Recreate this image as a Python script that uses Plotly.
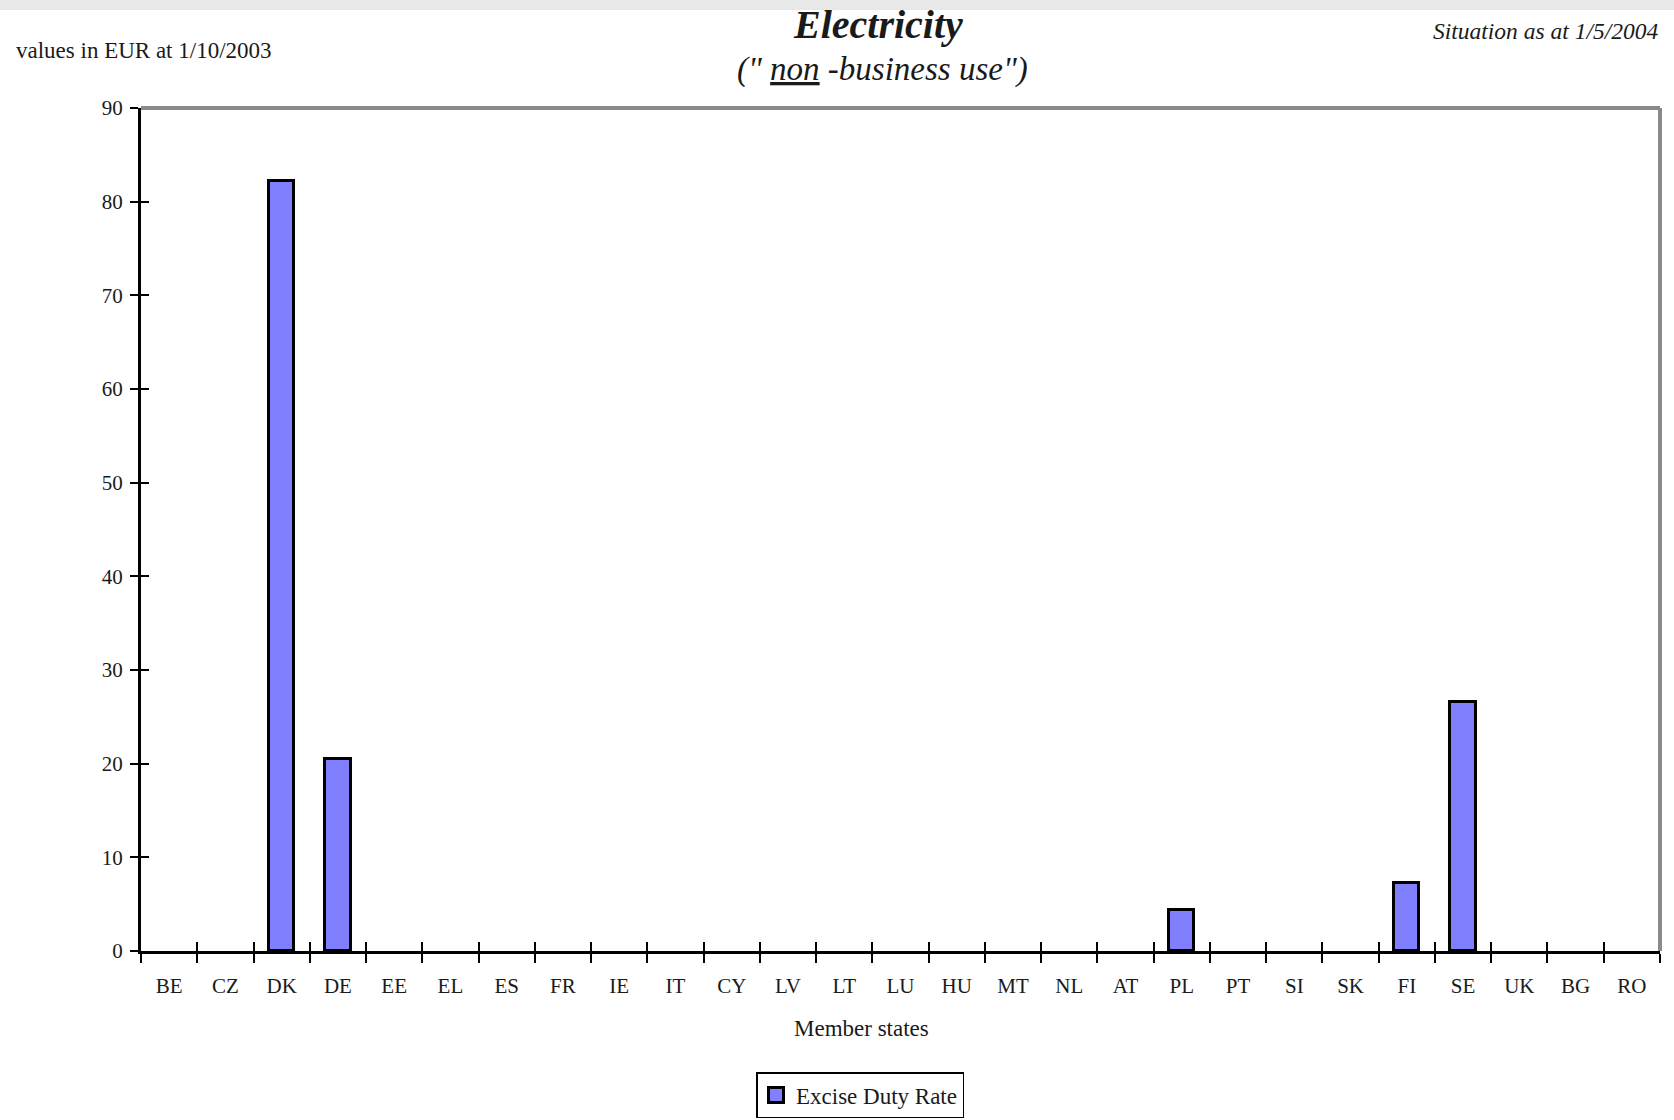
import plotly.graph_objects as go

countries = ["BE", "CZ", "DK", "DE", "EE", "EL", "ES", "FR", "IE", "IT", "CY", "LV", "LT",
             "LU", "HU", "MT", "NL", "AT", "PL", "PT", "SI", "SK", "FI", "SE", "UK", "BG", "RO"]
rates = [None, None, 82.2, 20.5, None, None, None, None, None, None, None, None, None,
         None, None, None, None, None, 4.4, None, None, None, 7.3, 26.6, None, None, None]
y_ticks = [0, 10, 20, 30, 40, 50, 60, 70, 80, 90]
series_name = "Excise Duty Rate"

W, H = 1674, 1120
L, R, T, B = 141, 14, 108, 169
PW, PH = W - L - R, H - T - B

def px(x):
    return (x - L) / PW

def py(y):
    return (H - B - y) / PH

FONT = "Liberation Serif"
TXT = "#1a1a1a"
FILL = "#8080FF"

fig = go.Figure()
fig.add_trace(go.Bar(
    x=countries, y=rates, width=0.45, name=series_name, legendgroup="g",
    marker=dict(color=FILL, line=dict(color="black", width=3)),
    showlegend=False,
))
# legend entry with a larger square swatch
fig.add_trace(go.Scatter(
    x=[None], y=[None], mode="markers", name=series_name, legendgroup="g",
    marker=dict(symbol="square", size=15, color=FILL, line=dict(color="black", width=3)),
    showlegend=True, hoverinfo="skip",
))
# helper trace so the overlay axes (inner tick halves) are drawn
fig.add_trace(go.Scatter(x=[], y=[], xaxis="x2", yaxis="y2", showlegend=False, hoverinfo="skip"))

n = len(countries)
fig.update_layout(
    width=W, height=H,
    margin=dict(l=L, r=R, t=T, b=B, autoexpand=False),
    paper_bgcolor="white", plot_bgcolor="white",
    font=dict(family=FONT, size=22, color=TXT),
    showlegend=True,
    bargap=0,
    xaxis=dict(
        type="category", categoryorder="array", categoryarray=countries,
        range=[-0.5, n - 0.5], tickson="boundaries",
        ticks="outside", ticklen=9, tickwidth=2, tickcolor="black",
        showline=True, linecolor="black", linewidth=3,
        showgrid=False, zeroline=False, automargin=False,
        tickfont=dict(family=FONT, size=21, color=TXT),
        ticklabelstandoff=14,
    ),
    yaxis=dict(
        range=[0, 90], tickvals=y_ticks,
        ticks="outside", ticklen=8, tickwidth=2, tickcolor="black",
        showline=True, linecolor="black", linewidth=3,
        showgrid=False, zeroline=False, automargin=False,
        tickfont=dict(family=FONT, size=21, color=TXT),
        ticklabelstandoff=3,
    ),
    xaxis2=dict(
        overlaying="x", anchor="y2", range=[-0.5, n - 0.5],
        tickvals=[i - 0.5 for i in range(n + 1)],
        ticks="inside", ticklen=9, tickwidth=2, tickcolor="black",
        showticklabels=False, showline=False, showgrid=False, zeroline=False,
    ),
    yaxis2=dict(
        overlaying="y", anchor="x2", side="left", range=[0, 90], tickvals=y_ticks,
        ticks="inside", ticklen=8, tickwidth=2, tickcolor="black",
        showticklabels=False, showline=False, showgrid=False, zeroline=False,
    ),
    legend=dict(
        orientation="h", x=px(860), xanchor="center", y=py(1118), yanchor="bottom",
        bordercolor="black", borderwidth=1.5, bgcolor="white",
        itemwidth=30, valign="middle",
        font=dict(family=FONT, size=23, color=TXT),
    ),
    shapes=[
        dict(type="rect", xref="paper", yref="paper", x0=-0.2, x1=1.2,
             y0=py(10), y1=1.3, fillcolor="#e8e8e8", line=dict(width=0), layer="below"),
        dict(type="line", xref="paper", yref="paper", x0=0, x1=1, y0=1, y1=1,
             line=dict(color="#8a8a8a", width=4), layer="below"),
        dict(type="line", xref="paper", yref="paper", x0=1, x1=1, y0=0, y1=1,
             line=dict(color="#8a8a8a", width=4), layer="below"),
    ],
    annotations=[
        dict(text="<b><i>Electricity</i></b>", xref="paper", yref="paper",
             x=px(878), y=py(24), xanchor="center", yanchor="middle", showarrow=False,
             font=dict(family=FONT, size=40, color=TXT)),
        dict(text="<i>(\" <u>non</u> -business use\")</i>", xref="paper", yref="paper",
             x=px(882), y=py(70), xanchor="center", yanchor="middle", showarrow=False,
             font=dict(family=FONT, size=33, color=TXT)),
        dict(text="values in EUR at 1/10/2003", xref="paper", yref="paper",
             x=px(14), y=py(50), xanchor="left", yanchor="middle", showarrow=False,
             font=dict(family=FONT, size=23, color=TXT)),
        dict(text="<i>Situation as at 1/5/2004</i>", xref="paper", yref="paper",
             x=px(1660), y=py(31), xanchor="right", yanchor="middle", showarrow=False,
             font=dict(family=FONT, size=23.5, color=TXT)),
        dict(text="Member states", xref="paper", yref="paper",
             x=px(861), y=py(1028), xanchor="center", yanchor="middle", showarrow=False,
             font=dict(family=FONT, size=23, color=TXT)),
    ],
)

fig.write_html("out.html")
